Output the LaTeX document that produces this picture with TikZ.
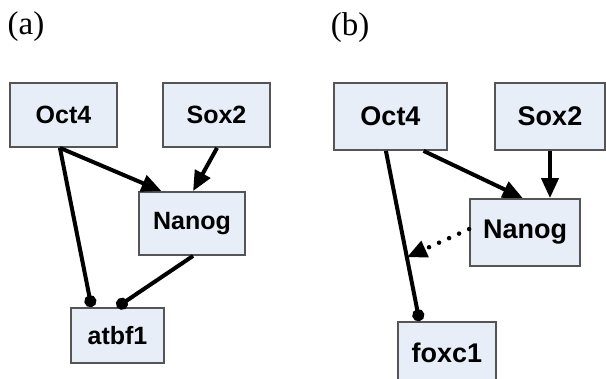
\documentclass[tikz,border=0pt]{standalone}
\usepackage{fontspec}
\setmainfont{Liberation Serif}
\setsansfont{Liberation Sans}
\usetikzlibrary{arrows.meta,calc}
\definecolor{boxfill}{HTML}{E8EEF8}
\definecolor{boxline}{HTML}{555555}
\tikzset{
  gene/.style={draw=boxline,fill=boxfill,line width=1.8pt,inner sep=0pt,font=\sffamily\bfseries\fontsize{25}{29}\selectfont},
  geneb/.style={gene,font=\sffamily\bfseries\fontsize{27}{31}\selectfont},
  panel/.style={font=\fontsize{33}{37}\selectfont,inner sep=0pt},
  act/.style={line width=4pt,-{Triangle[length=20pt,width=17pt]}},
  rep/.style={line width=4pt,-{Circle[length=12pt]}},
  weak/.style={line width=4.5pt,line cap=round,dash pattern=on 0pt off 11pt,-{Triangle[length=20pt,width=17pt]}}
}
\begin{document}
\begin{tikzpicture}[x=1pt,y=-1pt]
\useasboundingbox (0,0) rectangle (606,379);
% panel (a)
\node[panel] (la) at (26,27) {(a)};
\node[gene,minimum width=107pt,minimum height=64pt] (oct4a) at (63.5,115) {Oct4};
\node[gene,minimum width=107pt,minimum height=64pt] (sox2a) at (216.5,115) {Sox2};
\node[gene,minimum width=106pt,minimum height=63pt] (nanoga) at (192,223.5) {Nanog};
\node[gene,minimum width=93pt,minimum height=55pt] (atbf1a) at (117.5,335.5) {atbf1};
\coordinate (oa) at ($(oct4a.south west)!0.467!(oct4a.south east)$);
\draw[act] (oa) -- ($(nanoga.north west)!0.217!(nanoga.north east)$);
\draw[rep] (oa) -- ($(atbf1a.north west)!0.226!(atbf1a.north east)$);
\draw[act] ($(sox2a.south west)!0.505!(sox2a.south east)$) -- ($(nanoga.north west)!0.51!(nanoga.north east)$);
\draw[rep] ($(nanoga.south west)!0.51!(nanoga.south east)$) -- ($(atbf1a.north west)!0.495!(atbf1a.north east)$);
% panel (b)
\node[panel] (lb) at (350,28) {(b)};
\node[geneb,minimum width=113pt,minimum height=67pt] (oct4b) at (390.5,116.5) {Oct4};
\node[geneb,minimum width=110pt,minimum height=67pt] (sox2b) at (550,116.5) {Sox2};
\node[geneb,minimum width=110pt,minimum height=67pt] (nanogb) at (525,232.5) {Nanog};
\node[geneb,minimum width=98pt,minimum height=62pt] (foxc1b) at (447,353) {foxc1};
\coordinate (ob) at ($(oct4b.south west)!0.46!(oct4b.south east)$);
\coordinate (fb) at ($(foxc1b.north west)!0.224!(foxc1b.north east)$);
\draw[rep] (ob) -- (fb);
\draw[act] ($(oct4b.south west)!0.788!(oct4b.south east)$) -- ($(nanogb.north west)!0.48!(nanogb.north east)$);
\draw[act] (sox2b.south) -- (sox2b.south |- nanogb.north);
\coordinate (mid) at ($(ob)!0.625!(fb)$);
\draw[weak] ($(nanogb.north west)!0.45!(nanogb.south west)$) -- (mid);
\end{tikzpicture}
\end{document}
